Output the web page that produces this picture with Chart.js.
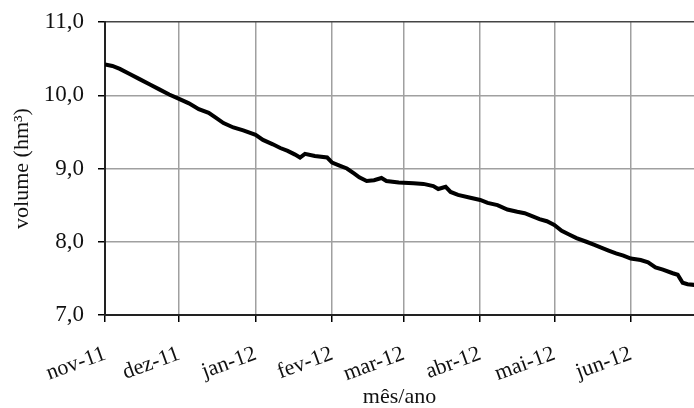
<!DOCTYPE html>
<html>
<head>
<meta charset="utf-8">
<script src="https://cdn.jsdelivr.net/npm/chart.js@4.4.1/dist/chart.umd.min.js"></script>
<style>
  html, body { margin: 0; padding: 0; background: #fff; }
  #wrap { width: 694px; height: 408px; }
</style>
</head>
<body>
<div id="wrap"><canvas id="myChart" width="694" height="408"></canvas></div>
<script>
// Reservoir volume, daily readings (days counted from 1 Nov 2011)
const days = [0, 3, 6, 10, 14, 18, 22, 26, 30, 34, 38, 42, 45, 48, 52, 56, 61, 64, 68, 71,
  74, 77, 79, 81, 85, 90, 92, 95, 98, 101, 103, 106, 109, 112, 114, 119, 125, 129, 133, 135,
  138, 140, 143, 148, 152, 155, 159, 163, 167, 170, 173, 176, 179, 182, 185, 188, 191, 195, 198, 201,
  204, 207, 210, 213, 217, 220, 223, 226, 230, 232, 234, 236, 239];
const volume = [10.42, 10.40, 10.36, 10.29, 10.22, 10.15, 10.08, 10.01, 9.95, 9.89, 9.81, 9.76, 9.69, 9.62, 9.56, 9.52, 9.46, 9.39, 9.33, 9.28,
  9.24, 9.19, 9.15, 9.20, 9.17, 9.15, 9.08, 9.04, 9.00, 8.93, 8.88, 8.83, 8.84, 8.87, 8.83, 8.81, 8.80, 8.79, 8.76, 8.72,
  8.75, 8.68, 8.64, 8.60, 8.57, 8.53, 8.50, 8.44, 8.41, 8.39, 8.35, 8.31, 8.28, 8.23, 8.15, 8.10, 8.05, 8.00, 7.96, 7.92,
  7.88, 7.84, 7.81, 7.77, 7.75, 7.72, 7.65, 7.62, 7.57, 7.55, 7.44, 7.42, 7.41];

// Month starts and their labels
const monthDays = [0, 30, 61, 92, 121, 152, 182, 213];
const monthLabels = ['nov-11', 'dez-11', 'jan-12', 'fev-12', 'mar-12', 'abr-12', 'mai-12', 'jun-12'];
const yTicks = [7, 8, 9, 10, 11];

const serif = 'Liberation Serif';

const points = days.map((d, i) => ({ x: d, y: volume[i] }));

new Chart(document.getElementById('myChart').getContext('2d'), {
  type: 'line',
  data: {
    datasets: [{
      data: points,
      borderColor: '#000',
      borderWidth: 4,
      pointRadius: 0,
      tension: 0,
      fill: false
    }]
  },
  options: {
    responsive: false,
    animation: false,
    layout: { padding: { top: 22, right: 0, bottom: 0, left: 0 } },
    plugins: { legend: { display: false }, tooltip: { enabled: false } },
    scales: {
      x: {
        type: 'linear',
        min: 0,
        max: 238.6,
        afterBuildTicks: (scale) => {
          scale.ticks = monthDays.map(v => ({ value: v }));
        },
        afterFit: (scale) => { scale.height = 93; },
        ticks: {
          autoSkip: false,
          minRotation: 20,
          maxRotation: 20,
          padding: 19,
          color: '#111',
          font: { family: serif, size: 22 },
          callback: (v) => monthLabels[monthDays.indexOf(v)]
        },
        grid: {
          color: '#a0a0a0',
          lineWidth: 1.5,
          tickLength: 7,
          tickColor: '#000'
        },
        border: { color: '#222', width: 2 },
        title: {
          display: true,
          text: 'mês/ano',
          color: '#111',
          font: { family: serif, size: 22, lineHeight: 1 },
          padding: { top: 0, bottom: 0 }
        }
      },
      y: {
        min: 7,
        max: 11,
        afterBuildTicks: (scale) => {
          scale.ticks = yTicks.map(v => ({ value: v }));
        },
        afterFit: (scale) => {
          scale.width = 105;
          scale.paddingTop = 0;
          scale.paddingBottom = 0;
        },
        ticks: {
          padding: 14,
          color: '#111',
          font: { family: serif, size: 23 },
          callback: (v) => v.toFixed(1).replace('.', ',')
        },
        grid: {
          color: (ctx) => (ctx.tick && ctx.tick.value === 11 ? '#444' : '#a0a0a0'),
          lineWidth: 1.5,
          tickLength: 7,
          tickColor: '#000'
        },
        border: { color: '#222', width: 2 },
        title: {
          display: true,
          text: 'volume (hm³)',
          color: '#111',
          font: { family: serif, size: 22, lineHeight: 1 },
          padding: { top: 11, bottom: 0 }
        }
      }
    }
  }
});
</script>
</body>
</html>
